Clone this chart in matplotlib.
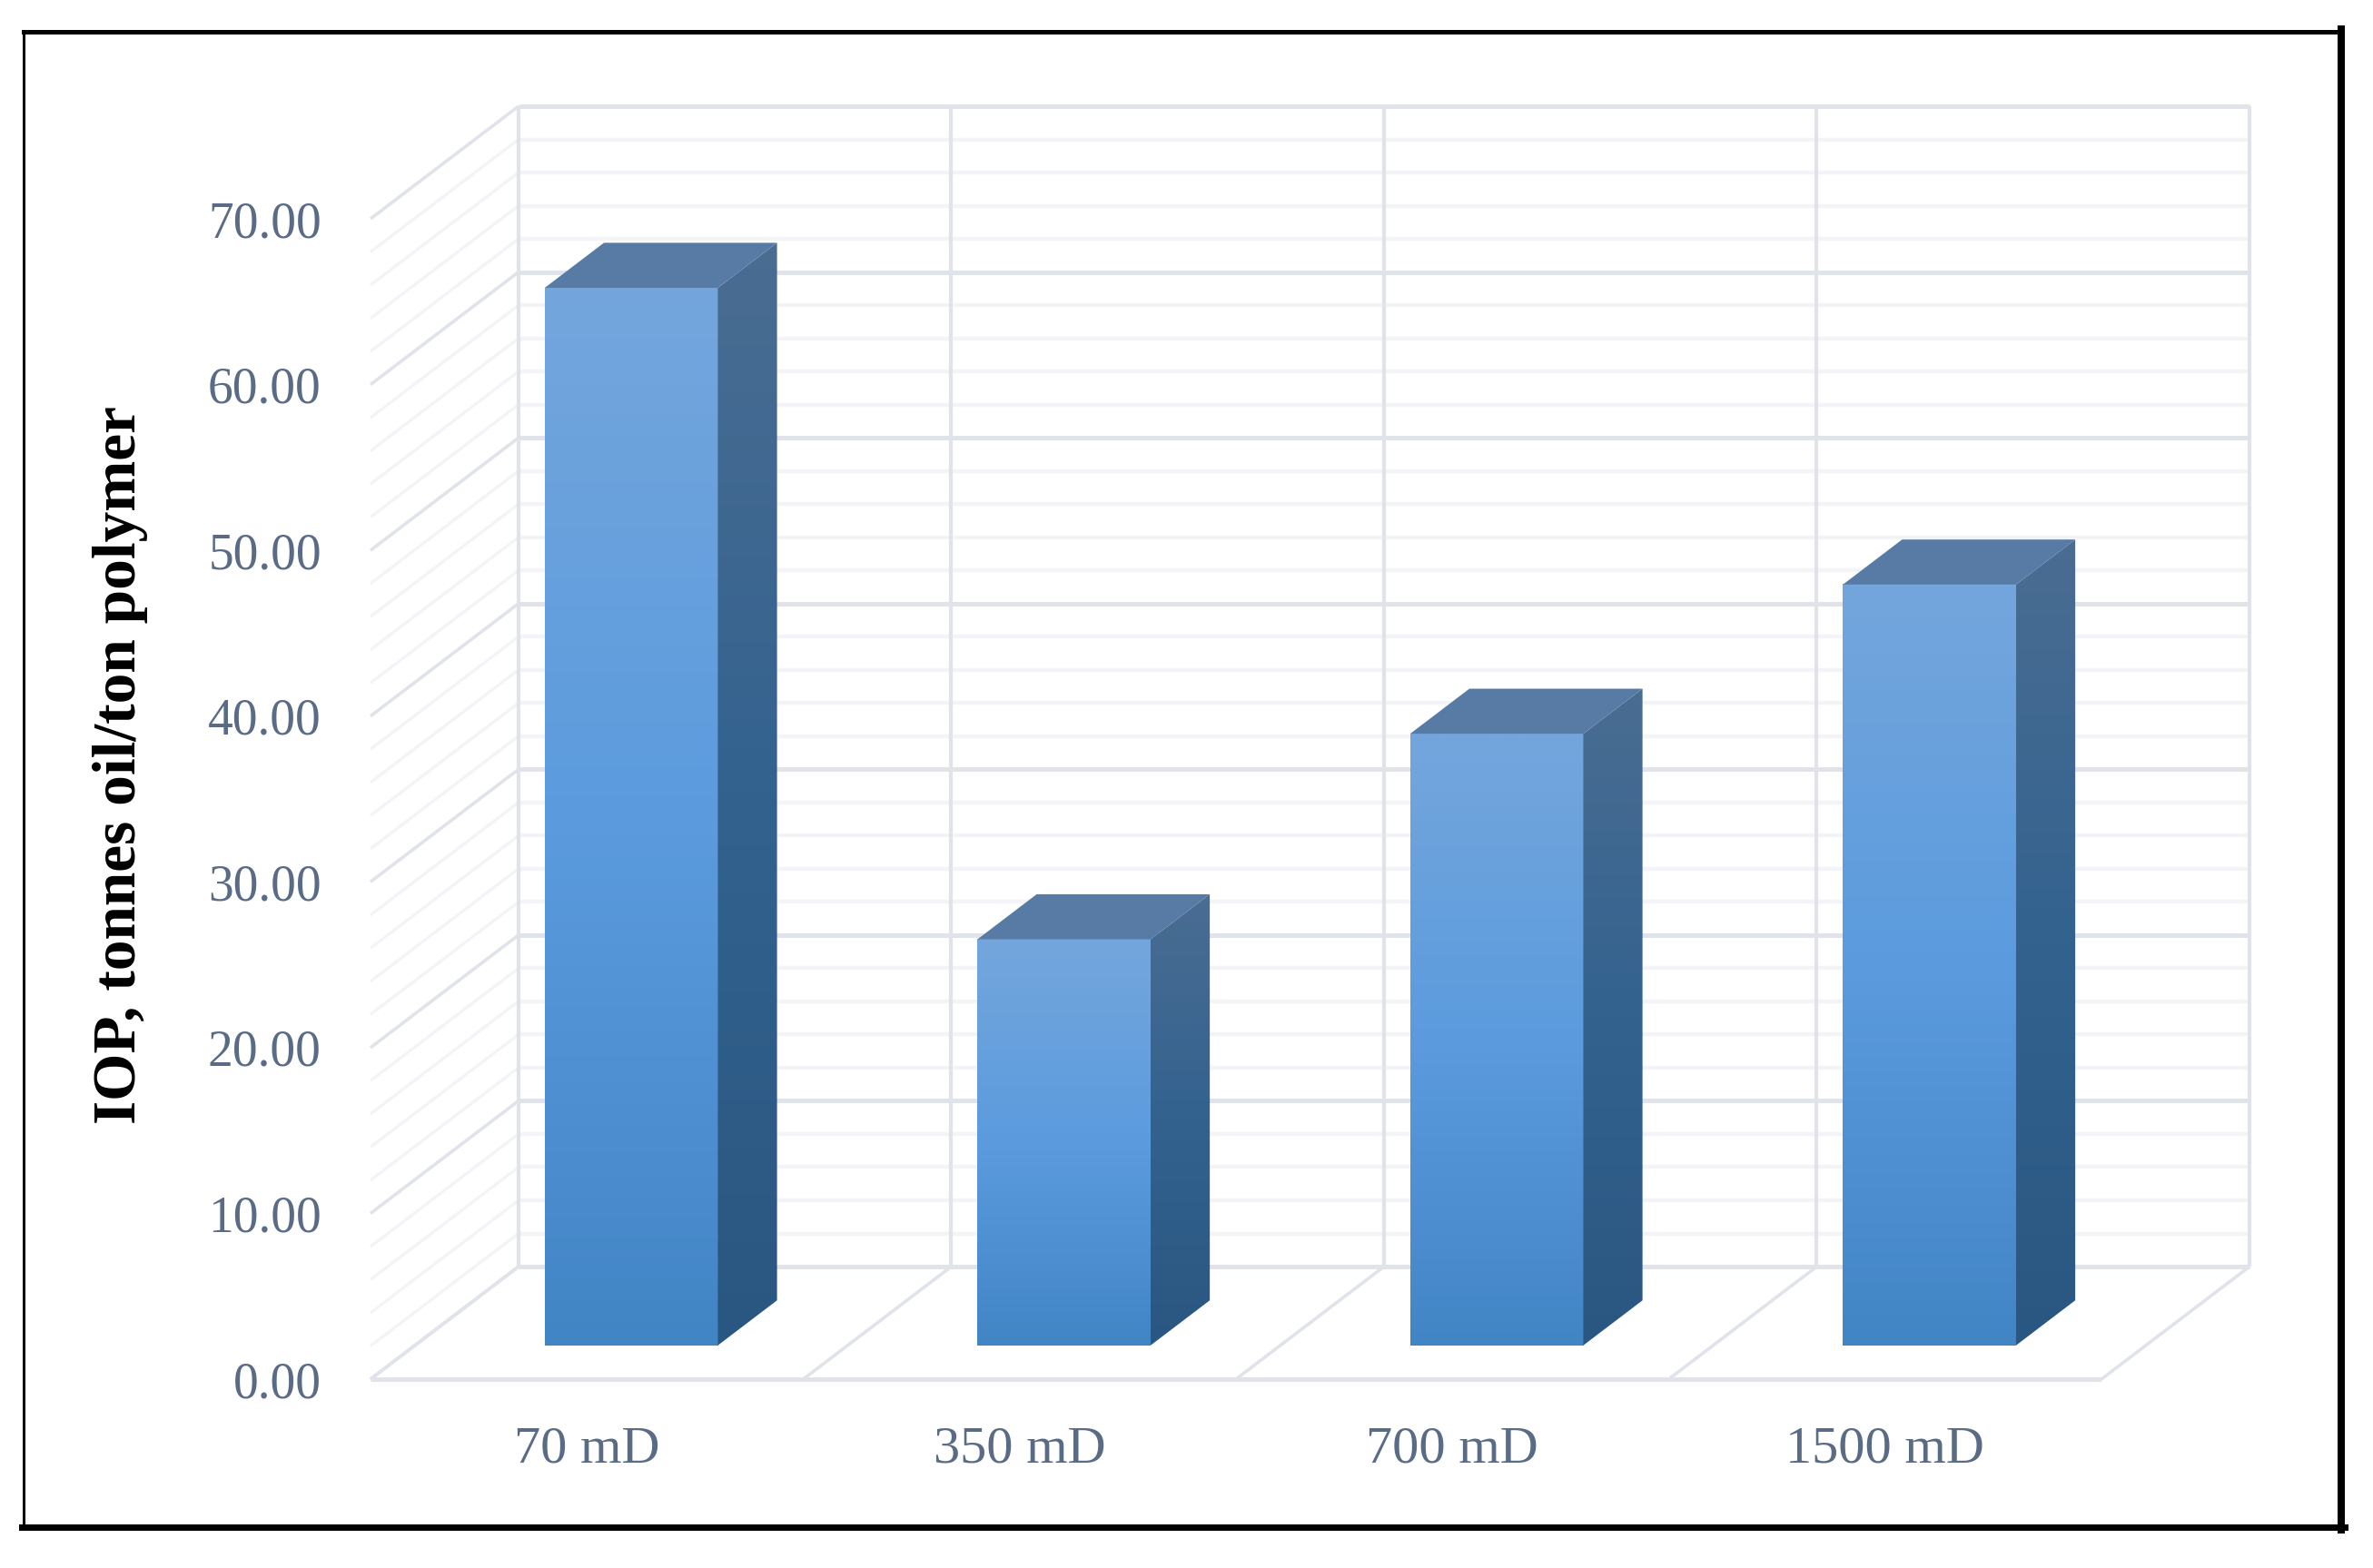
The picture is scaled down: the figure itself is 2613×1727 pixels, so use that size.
import numpy as np
import matplotlib
matplotlib.use('Agg')
import matplotlib.pyplot as plt
from matplotlib.colors import LinearSegmentedColormap
from matplotlib.lines import Line2D
from matplotlib.patches import Polygon

categories = ['70 mD', '350 mD', '700 mD', '1500 mD']
iop_values = [63.8, 24.5, 36.9, 45.9]
major_ticks = [0, 10, 20, 30, 40, 50, 60, 70]
minor_ticks = [2, 4, 6, 8, 12, 14, 16, 18, 22, 24, 26, 28, 32, 34, 36, 38,
               42, 44, 46, 48, 52, 54, 56, 58, 62, 64, 66, 68]

W, H = 2613, 1727
serif = 'Liberation Serif'
label_color = '#596B85'
major_color = '#E0E3EA'
minor_color = '#F2F4F7'

# oblique projection of the 3d box, depth goes 0 (front) to 1 (back)
depth_x = 0.342
depth_y = 6.79


def proj(x, v, d):
    return x + d * depth_x, v + d * depth_y


fig = plt.figure(figsize=(W / 100, H / 100), dpi=100, facecolor='white')
ax = fig.add_axes([408 / W, 1 - 1519 / H, (2314 - 408) / W, (1519 - 241) / H])
for s in ax.spines.values():
    s.set_visible(False)
ax.patch.set_alpha(0)


def line(p0, p1, color, lw):
    ax.plot([p0[0], p1[0]], [p0[1], p1[1]], color=color, lw=lw,
            clip_on=False, zorder=1, solid_capstyle='butt')


# minor gridlines, back wall and left wall
for v in minor_ticks:
    line(proj(0, v, 1), proj(4, v, 1), minor_color, 3.2)
    line(proj(0, v, 0), proj(0, v, 1), minor_color, 2.4)

# major gridlines
for v in major_ticks:
    line(proj(0, v, 1), proj(4, v, 1), major_color, 3.6)
    line(proj(0, v, 0), proj(0, v, 1), major_color, 2.6)

# verticals on back wall and floor dividers
for i in range(len(categories) + 1):
    line(proj(i, 0, 1), proj(i, 70, 1), major_color, 3.0)
    line(proj(i, 0, 0), proj(i, 0, 1), major_color, 2.6)
line(proj(0, 0, 0), proj(4, 0, 0), major_color, 3.6)

front_cmap = LinearSegmentedColormap.from_list(
    'front', ['#74A6DC', '#5B9BDE', '#4285C5'])
side_cmap = LinearSegmentedColormap.from_list(
    'side', ['#4A6D92', '#33628F', '#2A5781'])
shade = np.linspace(0, 1, 256)[:, None]

bar_width = 0.4
for i, val in enumerate(iop_values):
    x0 = i + 0.5 - bar_width / 2
    x1 = i + 0.5 + bar_width / 2
    d0, d1 = 0.3, 0.7

    # front face
    left, base = proj(x0, 0, d0)
    right, top = proj(x1, val, d0)
    ax.imshow(shade, cmap=front_cmap, aspect='auto', zorder=3,
              extent=(left, right, base, top), origin='upper')

    # side face
    side = Polygon([proj(x1, 0, d0), proj(x1, 0, d1), proj(x1, val, d1),
                    proj(x1, val, d0)], closed=True, transform=ax.transData,
                   fc='none', ec='none')
    ax.add_patch(side)
    far, _ = proj(x1, 0, d1)
    top_far = proj(x1, val, d1)[1]
    im = ax.imshow(shade, cmap=side_cmap, aspect='auto', zorder=3,
                   extent=(right, far, base, top_far), origin='upper')
    im.set_clip_path(side)

    # top face
    ax.add_patch(Polygon([proj(x0, val, d0), proj(x1, val, d0),
                          proj(x1, val, d1), proj(x0, val, d1)], closed=True,
                         fc='#587BA5', ec='none', zorder=3))

ax.set_xlim(0, 4)
ax.set_ylim(0, 70)

ax.set_yticks(major_ticks)
ax.set_yticklabels(['%.2f' % v for v in major_ticks], fontsize=40,
                   family=serif, color=label_color)
ax.set_xticks([i + 0.5 for i in range(len(categories))])
ax.set_xticklabels(categories, fontsize=42, family=serif, color=label_color)
ax.tick_params(axis='y', length=0, pad=39)
ax.tick_params(axis='x', length=0, pad=37)

fig.text(133 / W, 1 - 842 / H, 'IOP, tonnes oil/ton polymer', rotation=90,
         ha='center', va='center', fontsize=48.5, family=serif,
         fontweight='bold', color='black')

# black frame round the chart, heavier on right and bottom
frame = [((26, 35), (2578, 35), 5), ((26, 35), (26, 1682), 3),
         ((24, 1682), (2582, 1682), 7), ((2578, 32), (2578, 1685), 8)]
for (xa, ya), (xb, yb), lw in frame:
    fig.add_artist(Line2D([xa / W, xb / W], [1 - ya / H, 1 - yb / H],
                          color='black', lw=lw * 0.72,
                          transform=fig.transFigure))

fig.savefig('out.png', dpi=100, facecolor='white')
